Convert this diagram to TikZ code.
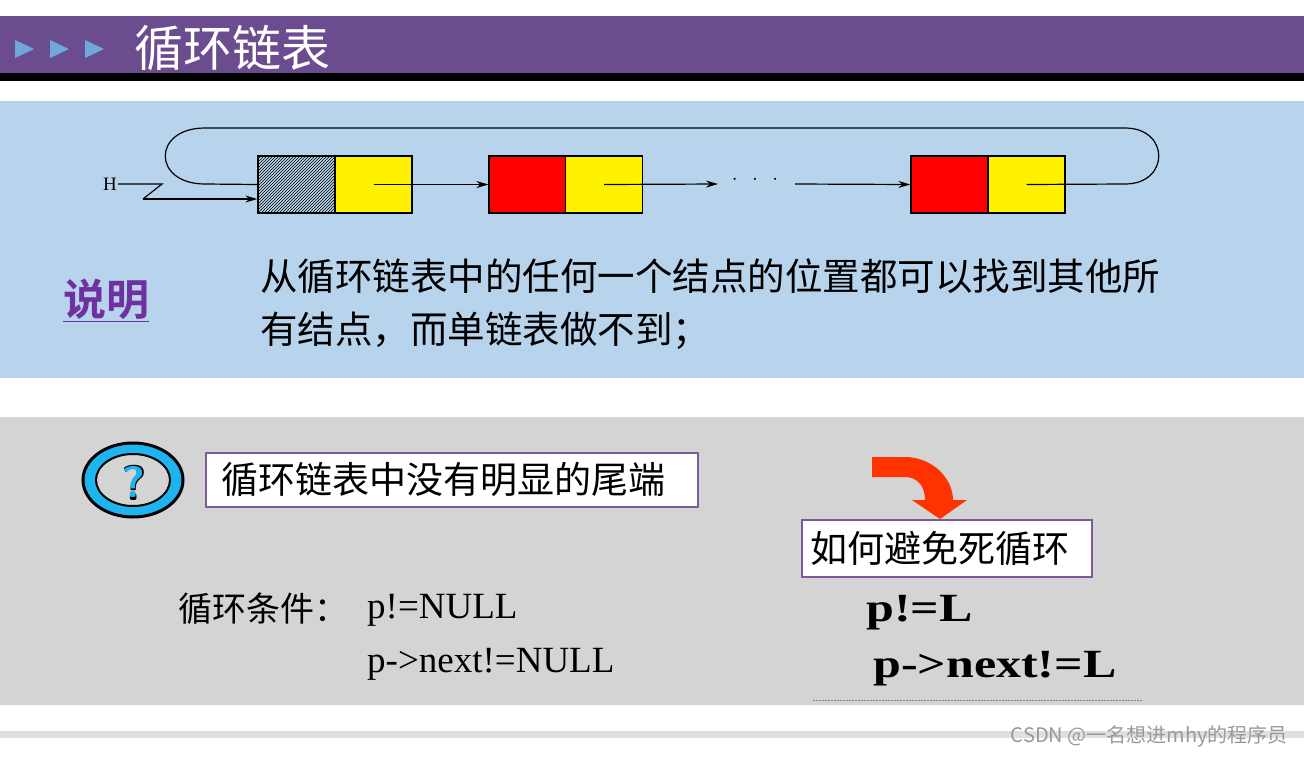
\documentclass[tikz,border=0pt]{standalone}
\usepackage{fontspec}
\setmainfont{Liberation Serif}
\newfontfamily\cjk{Noto Sans CJK SC}
\newfontfamily\cjkb{Noto Sans CJK SC}[BoldFont={* Bold}]
\usetikzlibrary{patterns,arrows.meta}
\definecolor{hdr}{HTML}{6B4C8F}
\definecolor{tri}{HTML}{6FA8DC}
\definecolor{pan}{HTML}{B8D4EC}
\definecolor{gpan}{HTML}{D4D4D4}
\definecolor{bx}{HTML}{7A5A9A}
\definecolor{sm}{HTML}{7030A0}
\definecolor{org}{HTML}{FF3300}
\definecolor{qb}{HTML}{1EB4F0}
\tikzset{cell/.style={draw=black,line width=1.3pt,minimum width=77pt,minimum height=57pt,inner sep=0},
 ptr/.style={-{Stealth[length=12pt,width=7pt]},line width=1.2pt},
 tbox/.style={draw=bx,line width=2pt,fill=white,inner sep=0pt,font=\cjk\fontsize{37}{40}\selectfont}}
\begin{document}
\begin{tikzpicture}[x=1pt,y=-1pt]
\useasboundingbox (0,0) rectangle (1304,756);
\fill[white] (0,0) rectangle (1304,756);
% header
\fill[hdr] (0,16) rectangle (1304,73);
\fill[black] (0,73) rectangle (1304,81);
\foreach \x in {15,50,85} \fill[tri] (\x,40) -- (\x+19,49) -- (\x,58) -- cycle;
\node[anchor=west,text=white,font=\cjk\fontsize{49}{50}\selectfont,inner sep=0] (title) at (134,48) {循环链表};
% blue panel
\fill[pan] (0,101) rectangle (1304,378);
\node[cell,pattern=north east lines] (h1) at (296.5,184.5) {};
\node[cell,fill=yellow] (y1) at (373.5,184.5) {};
\node[cell,fill=red] (r2) at (527.5,184.5) {};
\node[cell,fill=yellow] (y2) at (604,184.5) {};
\node[cell,fill=red] (r3) at (949.5,184.5) {};
\node[cell,fill=yellow] (y3) at (1026.5,184.5) {};
\node[font=\fontsize{19}{20}\selectfont,inner sep=1pt] (H) at (110,184) {H};
\node[font=\fontsize{20}{20}\selectfont] (dots) at (755,180) {$\cdot\ \ \cdot\ \ \cdot$};
\coordinate (d2) at (795,184);
\coordinate (z1) at (162,184);
\coordinate (z2) at (143,199);
\draw[line width=1.2pt] (H.east) -- (z1) -- (z2);
\draw[ptr] (z2) -- (h1.west |- z2);
\draw[ptr] (y1.center) -- (r2.west);
\draw[ptr] (y2.center) -- (718,184);
\draw[ptr] (d2) -- (r3.west);
\draw[line width=1.2pt] (y3.center) -- (1125,184) .. controls (1170,184) and (1170,128) .. (1125,128) -- (205,128) .. controls (152,128) and (152,184) .. (205,184) -- (h1.west);
\node[font=\cjkb\bfseries\fontsize{43}{44}\selectfont,text=sm,inner sep=0] (sm) at (106,300) {\underline{说明}};
\node[anchor=north west,align=left,font=\cjk\fontsize{37.5}{53}\selectfont,inner sep=0] (desc) at (260,259) {从循环链表中的任何一个结点的位置都可以找到其他所\\有结点，而单链表做不到；};
% gray panel
\fill[gpan] (0,417) rectangle (1304,705);
\draw[line width=3pt,fill=qb] (133,480) ellipse[x radius=50,y radius=37];
\draw[line width=2pt,fill=gpan] (133,480) ellipse[x radius=37,y radius=26];
\node[font=\sffamily\bfseries\fontsize{50}{50}\selectfont,text=black,inner sep=0] (q0) at (134,483) {?};
\node[font=\sffamily\bfseries\fontsize{44}{44}\selectfont,text=qb,inner sep=0] (q) at (134,482) {?};
\node[tbox,minimum width=492pt,minimum height=54pt,anchor=north west,text width=470pt,align=left] (b1) at (205,452) {\hspace*{4pt}循环链表中没有明显的尾端};
\node[tbox,minimum width=290pt,minimum height=57pt,anchor=north west,text width=280pt,align=left] (b2) at (801,519) {\hspace*{3pt}如何避免死循环};
\fill[org] (872,457) -- (905,457) .. controls (932,457) and (953,478) .. (953,500) -- (967,500) -- (940,519) -- (912,500) -- (925,500) .. controls (925,487) and (918,477) .. (905,477) -- (872,477) -- cycle;
\node[anchor=west,font=\cjk\fontsize{34}{34}\selectfont,inner sep=0] (cond) at (178,609) {循环条件：};
\node[anchor=west,font=\fontsize{37}{38}\selectfont,inner sep=0] (c1) at (367,610) {p!=NULL};
\node[anchor=west,font=\fontsize{37}{38}\selectfont,inner sep=0] (c2) at (367,664) {p->next!=NULL};
\node[anchor=west,font=\bfseries\fontsize{40}{40}\selectfont,inner sep=0,xscale=1.25] (l1) at (866,613) {p!=L};
\node[anchor=west,font=\bfseries\fontsize{40}{40}\selectfont,inner sep=0,xscale=1.25] (l2) at (873,669) {p->next!=L};
\draw[gray,line width=0.5pt,dash pattern=on 2pt off 1pt] (813,700) -- (1143,700);
\fill[gray!25] (0,731) rectangle (1304,738);
\node[anchor=east,text=gray!80,font=\cjk\fontsize{20}{20}\selectfont,inner sep=0] (wm) at (1288,736) {CSDN @一名想进mhy的程序员};
\end{tikzpicture}
\end{document}
